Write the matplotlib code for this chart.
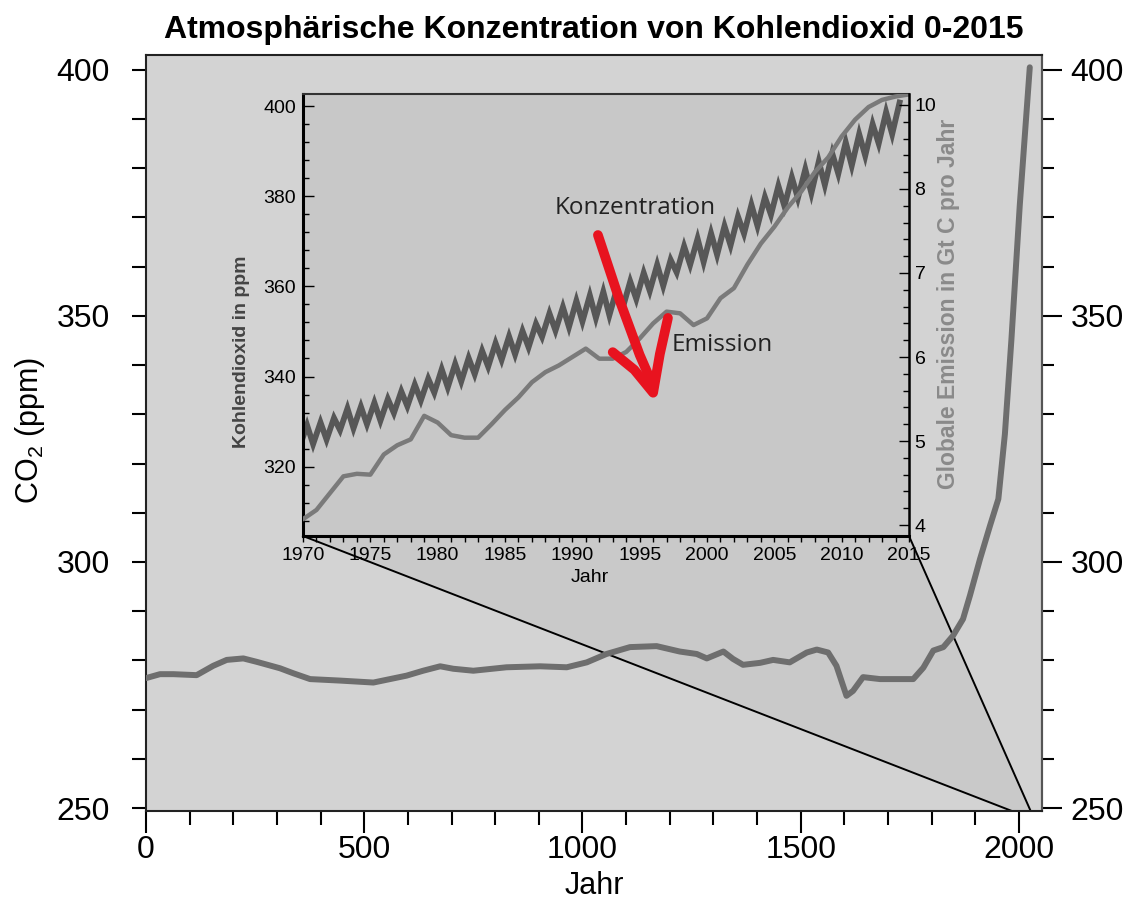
import matplotlib
matplotlib.use('Agg')
import matplotlib.pyplot as plt
import numpy as np
from matplotlib.patches import Polygon
from matplotlib.lines import Line2D
from matplotlib.ticker import MultipleLocator, FixedLocator, NullFormatter

plt.rcParams['font.family'] = ['Liberation Sans', 'DejaVu Sans']
plt.rcParams['mathtext.fontset'] = 'custom'
plt.rcParams['mathtext.rm'] = 'Liberation Sans'
plt.rcParams['mathtext.default'] = 'rm'

# --- main curve: CO2 0-2015
co2_years = [0, 32, 63, 116, 154, 185, 223, 254, 307, 337, 376, 444, 521, 559, 597,
             635, 674, 704, 750, 826, 903, 964, 1010, 1055, 1109, 1170, 1223, 1262,
             1285, 1323, 1345, 1368, 1407, 1437, 1475, 1514, 1537, 1563, 1582, 1605,
             1620, 1643, 1682, 1758, 1781, 1804, 1827, 1849, 1872, 1888, 1911, 1934,
             1953, 1968, 1983, 2002, 2025]
co2_ppm = [276.4, 277.2, 277.2, 277.0, 278.9, 280.1, 280.4, 279.7, 278.4, 277.4,
           276.2, 275.9, 275.5, 276.2, 276.9, 277.9, 278.8, 278.3, 277.9, 278.6,
           278.8, 278.6, 279.6, 281.3, 282.7, 282.9, 281.8, 281.3, 280.4, 281.8,
           280.3, 279.1, 279.5, 280.1, 279.6, 281.6, 282.2, 281.6, 278.9, 272.8,
           273.8, 276.6, 276.2, 276.2, 278.5, 282.0, 282.7, 285.0, 288.4, 293.2,
           300.6, 307.4, 312.8, 326.0, 345.3, 372.4, 400.5]
main_yticks = [250, 300, 350, 400]

# --- inset: seasonal minimum (autumn before) and maximum (spring) per year
inset_years = list(range(1970, 2015))
conc_peaks = [329.2, 329.8, 330.8, 332.9, 333.3, 334.2, 335.0, 336.7, 338.2, 339.5,
              341.6, 342.8, 344.1, 345.7, 347.4, 348.9, 350.1, 351.7, 354.0, 355.4,
              356.8, 358.0, 358.8, 359.4, 361.1, 363.0, 364.8, 365.9, 368.9, 370.6,
              371.8, 373.4, 375.5, 378.1, 379.8, 382.3, 384.2, 386.0, 387.7, 389.5,
              392.0, 393.8, 396.0, 398.7, 400.8]
conc_troughs = [324.4, 325.0, 326.0, 328.1, 328.5, 329.4, 330.2, 331.9, 333.4, 334.7,
                336.4, 337.6, 338.9, 340.5, 342.2, 343.7, 344.9, 346.5, 348.8, 350.2,
                351.0, 352.2, 353.0, 353.6, 355.3, 357.2, 359.0, 360.1, 363.1, 364.8,
                365.4, 367.0, 369.1, 371.7, 373.4, 375.9, 377.8, 379.6, 380.7, 382.5,
                385.0, 386.8, 389.0, 391.7, 393.8]

# --- inset: global emission in Gt C per year
emis_years = list(range(1970, 2016))
emis_gtc = [4.07, 4.18, 4.38, 4.58, 4.61, 4.60, 4.84, 4.95, 5.02, 5.30,
            5.22, 5.07, 5.04, 5.04, 5.20, 5.37, 5.52, 5.70, 5.82, 5.90,
            6.00, 6.10, 5.98, 5.98, 6.06, 6.22, 6.40, 6.54, 6.52, 6.38,
            6.46, 6.70, 6.82, 7.10, 7.35, 7.55, 7.78, 7.97, 8.40, 8.75,
            9.25, 9.65, 9.95, 10.12, 10.20, 10.25]
emis_ticks = [4, 5, 6, 7, 8, 10]

zoom_span = (1984, 2027)

fig = plt.figure(figsize=(11.35, 9), dpi=100)
ax = fig.add_axes([146 / 1135, 89 / 900, 896 / 1135, 756 / 900])
ax.set_facecolor('#d3d3d3')
ax.set_xlim(0, 2053)
ax.set_ylim(249.4, 403.0)
ax.plot(co2_years, co2_ppm, color='#6e6e6e', lw=4.3,
        solid_joinstyle='round', solid_capstyle='round', zorder=3)

ax.xaxis.set_major_locator(FixedLocator([0, 500, 1000, 1500, 2000]))
ax.xaxis.set_minor_locator(MultipleLocator(100))
ax.yaxis.set_major_locator(FixedLocator(main_yticks))
ax.yaxis.set_minor_locator(MultipleLocator(10))
ax.tick_params(axis='x', which='major', length=16, width=1.5, labelsize=23, pad=1)
ax.tick_params(axis='x', which='minor', length=10, width=1.5)
ax.tick_params(axis='y', which='both', length=10, width=1.5, labelsize=23, pad=16)
for s in ax.spines.values():
    s.set_linewidth(1.5)
    s.set_color('#222222')
ax.spines['right'].set_color('#555555')

sec = ax.secondary_yaxis('right')
sec.yaxis.set_major_locator(FixedLocator(main_yticks))
sec.yaxis.set_minor_locator(FixedLocator(list(range(260, 400, 10))))
sec.yaxis.set_minor_formatter(NullFormatter())
sec.tick_params(which='major', length=14.5, width=1.5, labelsize=23, pad=6)
sec.tick_params(which='minor', length=8.6, width=1.5)
sec.spines['right'].set_color('#555555')
sec.spines['right'].set_linewidth(1.5)

ax.set_title('Atmosphärische Konzentration von Kohlendioxid 0-2015',
             fontsize=23, fontweight='bold', pad=12)
fig.text(30 / 1135, 1 - 430 / 900, 'CO$_2$ (ppm)', rotation=90,
         ha='center', va='center', fontsize=22)
fig.text(594 / 1135, 1 - 886 / 900, 'Jahr', ha='center', va='center', fontsize=22)

# --- inset
ins = fig.add_axes([303 / 1135, 364 / 900, 606 / 1135, 442 / 900])
ins.set_facecolor('#c8c8c8')
zig_x, zig_y = [], []
for yr, p, t in zip(inset_years, conc_peaks, conc_troughs):
    zig_x += [yr - 0.25, yr + 0.3]
    zig_y += [t, p]
ins.plot(zig_x, zig_y, color='#575757', lw=4.2, solid_joinstyle='miter')
ins.set_xlim(1970, 2015)
ins.set_ylim(304.6, 402.7)
ins.xaxis.set_major_locator(MultipleLocator(5))
ins.xaxis.set_minor_locator(MultipleLocator(1))
ins.yaxis.set_major_locator(MultipleLocator(20))
ins.yaxis.set_minor_locator(MultipleLocator(4))
ins.tick_params(axis='x', which='both', direction='out', length=4, width=1,
                labelsize=14, pad=4)
ins.tick_params(axis='y', which='major', direction='in', length=8, width=1,
                labelsize=14, pad=5)
ins.tick_params(axis='y', which='minor', direction='in', length=4, width=1)
ins.spines['left'].set_linewidth(2.2)
ins.spines['bottom'].set_linewidth(2.2)
ins.spines['top'].set_linewidth(1.5)
ins.spines['top'].set_color('#333333')
ins.spines['right'].set_visible(False)


def fwd(v):
    v = np.asarray(v, dtype=float)
    return np.where(v <= 8, v, 8 + (v - 8) / 2)


def inv(p):
    p = np.asarray(p, dtype=float)
    return np.where(p <= 8, p, 8 + (p - 8) * 2)


ins2 = ins.twinx()
ins2.set_yscale('function', functions=(fwd, inv))
ins2.plot(emis_years, emis_gtc, color='#7a7a7a', lw=3.2, solid_capstyle='round')
ins2.set_ylim(3.87, 10.26)
ins2.set_xlim(1970, 2015)
ins2.yaxis.set_major_locator(FixedLocator(emis_ticks))
ins2.yaxis.set_minor_locator(FixedLocator(list(np.arange(4, 8, 0.2)) +
                                          list(np.arange(8, 10.01, 0.4))))
ins2.yaxis.set_minor_formatter(NullFormatter())
ins2.set_yticklabels([str(t) for t in emis_ticks])
ins2.tick_params(axis='y', which='major', direction='in', length=7, width=1,
                 labelsize=14, pad=4)
ins2.tick_params(axis='y', which='minor', direction='in', length=4.5, width=1)
for k in ['left', 'top', 'bottom']:
    ins2.spines[k].set_visible(False)
ins2.spines['right'].set_linewidth(1.8)

fig.text(241 / 1135, 1 - 352 / 900, 'Kohlendioxid in ppm', rotation=90,
         ha='center', va='center', fontsize=14, fontweight='bold', color='#444444')
fig.text(948 / 1135, 1 - 304 / 900, 'Globale Emission in Gt C pro Jahr', rotation=90,
         ha='center', va='center', fontsize=16.5, fontweight='bold', color='#8a8a8a')
fig.text(590 / 1135, 1 - 578 / 900, 'Jahr', ha='center', va='center', fontsize=14)

fig.text(1988.7, 377.4, 'Konzentration', transform=ins.transData, family='Open Sans',
         fontsize=17.5, color='#222222', va='center', ha='left')
fig.text(1997.4, 347.0, 'Emission', transform=ins.transData, family='Open Sans',
         fontsize=17.5, color='#222222', va='center', ha='left')

# red hand-drawn arrow
red = '#e8131f'
fig.add_artist(Line2D([1991.9, 1993.5, 1995.0, 1995.8], [371.4, 357.0, 344.8, 339.3],
                      transform=ins.transData, color=red, lw=7,
                      solid_capstyle='round', solid_joinstyle='round'))
fig.add_artist(Line2D([1993.0, 1994.6, 1996.0, 1996.5, 1997.1],
                      [345.4, 341.5, 336.4, 345.0, 353.0],
                      transform=ins.transData, color=red, lw=7,
                      solid_capstyle='round', solid_joinstyle='round'))

# zoom connector
fig.canvas.draw()
to_main = ax.transData.inverted()
bl = to_main.transform(ins.transAxes.transform((0, 0)))
br = to_main.transform(ins.transAxes.transform((1, 0)))
ylo = ax.get_ylim()[0]
ax.add_patch(Polygon([bl, br, (zoom_span[1], ylo), (zoom_span[0], ylo)],
                     closed=True, facecolor='#c9c9c9', edgecolor='none', zorder=1))
ax.plot([bl[0], zoom_span[0]], [bl[1], ylo], color='black', lw=1.4, zorder=2)
ax.plot([br[0], zoom_span[1]], [br[1], ylo], color='black', lw=1.4, zorder=2)
ax.set_xlim(0, 2053)
ax.set_ylim(249.4, 403.0)

fig.savefig('out.png', dpi=100)
